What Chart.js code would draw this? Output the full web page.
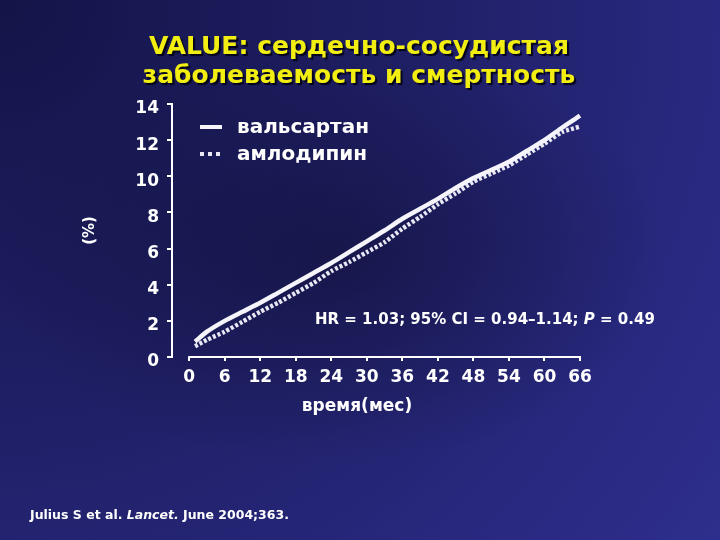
<!DOCTYPE html>
<html><head><meta charset="utf-8">
<script src="https://cdn.jsdelivr.net/npm/chart.js@4"></script>
<style>
html,body{margin:0;padding:0;}
body{width:720px;height:540px;overflow:hidden;
background:
 radial-gradient(ellipse 340px 210px at 330px 255px, rgba(18,18,60,0.65) 0%, rgba(18,18,60,0) 100%),
 radial-gradient(circle at 0 0, #141448 0%, #1f1f66 45%, #2a2a84 85%, #2e2e8c 100%);}
canvas{display:block}
</style></head>
<body><canvas id="c" width="720" height="540"></canvas>
<script>
const months     = [1, 3, 6, 9, 12, 15, 18, 21, 24, 27, 30, 33, 36, 39, 42, 45, 48, 51, 54, 57, 60, 63, 66];
const valsartan  = [0.85, 1.4, 2.0, 2.5, 3.0, 3.55, 4.1, 4.65, 5.2, 5.8, 6.4, 7.0, 7.65, 8.2, 8.75, 9.35, 9.9, 10.35, 10.8, 11.4, 12.0, 12.7, 13.35];
const amlodipine = [0.6, 0.95, 1.4, 1.95, 2.5, 3.0, 3.55, 4.1, 4.75, 5.25, 5.8, 6.35, 7.1, 7.75, 8.45, 9.05, 9.7, 10.15, 10.6, 11.2, 11.8, 12.45, 12.75];
const xTicks = [0, 6, 12, 18, 24, 30, 36, 42, 48, 54, 60, 66];
const yTicks = [0, 2, 4, 6, 8, 10, 12, 14];
const seriesNames = ['вальсартан', 'амлодипин'];
const titleLines = ['VALUE: сердечно-сосудистая', 'заболеваемость и смертность'];
const xTitle = 'время(мес)';
const yTitle = '(%)';
const hrParts = [['HR = 1.03; 95% CI = 0.94–1.14; ', false], ['P', true], [' = 0.49', false]];
const citeParts = [['Julius S et al. ', false], ['Lancet.', true], [' June 2004;363.', false]];

const FONT = '"DejaVu Sans", Verdana, sans-serif';
const WHITE = '#ffffff';

function drawParts(ctx, parts, x, y, size) {
  let cx = x;
  for (const [t, it] of parts) {
    ctx.font = (it ? 'italic ' : '') + 'bold ' + size + 'px ' + FONT;
    ctx.fillText(t, cx, y);
    cx += ctx.measureText(t).width;
  }
}

const overlay = {
  id: 'overlay',
  afterDraw(chart) {
    const ctx = chart.ctx;
    const xs = chart.scales.x, ys = chart.scales.y;
    ctx.save();
    // title
    ctx.textAlign = 'center'; ctx.textBaseline = 'middle';
    ctx.font = 'bold 25px ' + FONT;
    ctx.shadowColor = 'rgba(0,0,20,0.9)'; ctx.shadowOffsetX = 2; ctx.shadowOffsetY = 2; ctx.shadowBlur = 1;
    ctx.fillStyle = '#f2ee12';
    titleLines.forEach((t, i) => ctx.fillText(t, 359, 47 + i * 29));
    ctx.shadowColor = 'rgba(0,0,0,0)';
    // x axis line from first to last tick
    ctx.strokeStyle = WHITE; ctx.lineWidth = 2;
    ctx.beginPath();
    ctx.moveTo(xs.getPixelForValue(xTicks[0]) - 1, ys.bottom);
    ctx.lineTo(xs.getPixelForValue(xTicks[xTicks.length - 1]) + 1, ys.bottom);
    ctx.stroke();
    // x axis title
    ctx.fillStyle = WHITE; ctx.textAlign = 'center'; ctx.textBaseline = 'middle';
    ctx.font = 'bold 17px ' + FONT;
    ctx.fillText(xTitle, 357, 407);
    // legend
    const ds = chart.data.datasets;
    const lx = 200, ly = [127, 154];
    ds.forEach((d, i) => {
      ctx.strokeStyle = d.borderColor; ctx.lineWidth = 4;
      ctx.setLineDash(i === 0 ? [] : [4, 4]);
      ctx.beginPath(); ctx.moveTo(lx, ly[i]); ctx.lineTo(lx + 22, ly[i]); ctx.stroke();
      ctx.setLineDash([]);
      ctx.fillStyle = WHITE; ctx.textBaseline = 'middle'; ctx.textAlign = 'left';
      ctx.font = 'bold 20px ' + FONT;
      ctx.fillText(d.label, 237, ly[i] + 1);
    });
    // HR annotation
    ctx.fillStyle = WHITE; ctx.textBaseline = 'middle'; ctx.textAlign = 'left';
    drawParts(ctx, hrParts, 315, 320, 15);
    // citation
    drawParts(ctx, citeParts, 30, 516, 12.5);
    ctx.restore();
  }
};

new Chart(document.getElementById('c'), {
  type: 'line',
  data: {
    datasets: [
      { label: seriesNames[0], data: months.map((m, i) => ({x: m, y: valsartan[i]})),
        borderColor: '#f4f4fa', borderWidth: 4.5, pointRadius: 0, tension: 0.2, clip: 6 },
      { label: seriesNames[1], data: months.map((m, i) => ({x: m, y: amlodipine[i]})),
        borderColor: '#e8e8f4', borderWidth: 4.5, borderDash: [3, 2], pointRadius: 0, tension: 0.2, clip: 6 }
    ]
  },
  options: {
    responsive: false, animation: false,
    layout: { padding: { left: 78, right: 140, top: 104, bottom: 121 } },
    plugins: {
      legend: { display: false },
      tooltip: { enabled: false },
      title: { display: false }
    },
    scales: {
      x: {
        type: 'linear', min: -2.9, max: 66,
        afterBuildTicks: s => { s.ticks = xTicks.map(v => ({ value: v })); },
        afterFit: s => { s.height = 62; },
        border: { display: false },
        grid: { drawOnChartArea: false, drawTicks: true, tickLength: 4, color: WHITE, lineWidth: 2 },
        ticks: { color: WHITE, padding: 6, autoSkip: false, maxRotation: 0,
          font: { family: FONT, size: 17, weight: 'bold' } },
        title: { display: false }
      },
      y: {
        type: 'linear', min: 0, max: 14,
        afterBuildTicks: s => { s.ticks = yTicks.map(v => ({ value: v })); },
        afterFit: s => { s.width = 94; },
        border: { display: true, color: WHITE, width: 2 },
        grid: { drawOnChartArea: false, drawTicks: true, tickLength: 5, color: WHITE, lineWidth: 2 },
        ticks: { color: WHITE, padding: 8, labelOffset: 5,
          font: { family: FONT, size: 17, weight: 'bold' } },
        title: { display: true, text: yTitle, color: WHITE,
          font: { family: FONT, size: 15, weight: 'bold', lineHeight: 1.2 },
          padding: { top: 3, bottom: 0 } }
      }
    }
  },
  plugins: [overlay]
});
</script>
</body></html>
